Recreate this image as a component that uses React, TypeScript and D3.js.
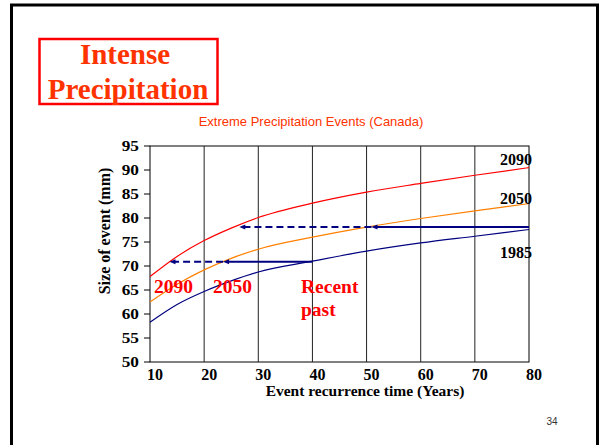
import React from "react";
import * as d3 from "d3";

// recurrence time (years) at which curves were read
const years = [10, 15, 20, 25, 30, 40, 50, 60, 70, 80];
const curve2090 = [67.8, 72.0, 75.3, 77.9, 80.1, 83.1, 85.4, 87.2, 88.9, 90.5];
const curve2050 = [62.5, 66.2, 69.2, 71.6, 73.5, 76.0, 78.1, 79.9, 81.5, 83.0];
const curve1985 = [58.3, 62.0, 64.7, 66.9, 68.75, 71.0, 73.1, 74.8, 76.2, 77.6];

const xTicks = [10, 20, 30, 40, 50, 60, 70, 80];
const yTicks = [50, 55, 60, 65, 70, 75, 80, 85, 90, 95];

// horizontal arrows: [level, from, to, dashed]
const arrows: [number, number, number, boolean][] = [
  [70.9, 40, 23.5, false],
  [70.9, 23.5, 13.6, true],
  [78.1, 80, 50.9, false],
  [78.1, 50.9, 26.5, true],
];

// series names at the right end, placed at a value on the y scale
const endLabels = [
  {text: "2090", value: 91.0},
  {text: "2050", value: 82.9},
  {text: "1985", value: 71.7},
];

const serif = "'Liberation Serif', 'Times New Roman', serif";
const sans = "'Liberation Sans', Arial, sans-serif";
const navy = "#000080";

export default function App() {
  const x = d3.scaleLinear().domain([10, 80]).range([150, 529]);
  const y = d3.scaleLinear().domain([50, 95]).range([362, 146]);

  const line = d3.line<number>()
    .x((d, i) => x(years[i]))
    .y(d => y(d))
    .curve(d3.curveMonotoneX);

  const series = [
    {vals: curve2090, color: "#ff0000"},
    {vals: curve2050, color: "#ff8000"},
    {vals: curve1985, color: navy},
  ];

  return (
    <svg width={602} height={445} style={{position: "absolute", left: 0, top: 0, background: "#fff"}}>
      {/* slide frame */}
      <rect x={11.5} y={5} width={586} height={460} fill="none" stroke="#000" strokeWidth={3}/>

      {/* title box */}
      <rect x={39.5} y={39} width={178} height={65} fill="none" stroke="#ff0000" strokeWidth={2.5}/>
      <text x={125} y={64} textAnchor="middle" fontFamily={serif} fontWeight="bold" fontSize={29} fill="#ff3300">Intense</text>
      <text x={128} y={99} textAnchor="middle" fontFamily={serif} fontWeight="bold" fontSize={29} fill="#ff3300">Precipitation</text>

      <text x={311} y={126} textAnchor="middle" fontFamily={sans} fontSize={13} fill="#ff3300">
        Extreme Precipitation Events (Canada)
      </text>

      {/* plot frame + grid */}
      <rect x={x(10)} y={y(95)} width={x(80) - x(10)} height={y(50) - y(95)} fill="none" stroke="#000" strokeWidth={1}/>
      {xTicks.slice(1, -1).map(t => (
        <line key={t} x1={x(t)} x2={x(t)} y1={y(95)} y2={y(50)} stroke="#222" strokeWidth={1}/>
      ))}

      {/* y axis */}
      {yTicks.map(t => (
        <g key={t}>
          <line x1={x(10) - 6} x2={x(10)} y1={y(t)} y2={y(t)} stroke="#000"/>
          <text x={139} y={y(t)} dy="0.36em" textAnchor="end" fontFamily={serif} fontWeight="bold" fontSize={15}
                transform={`translate(139,0) scale(1.15,1) translate(-139,0)`}>{t}</text>
        </g>
      ))}
      {xTicks.map(t => (
        <text key={t} x={x(t) + 5} y={380} textAnchor="middle" fontFamily={serif} fontWeight="bold" fontSize={16}>{t}</text>
      ))}

      <text x={365} y={396} textAnchor="middle" fontFamily={serif} fontWeight="bold" fontSize={15.5}>
        Event recurrence time (Years)
      </text>
      <text transform="translate(110,231) rotate(-90)" textAnchor="middle" fontFamily={serif} fontWeight="bold" fontSize={16}>
        Size of event (mm)
      </text>

      {/* curves */}
      {series.map((s, i) => (
        <path key={i} d={line(s.vals) || ""} fill="none" stroke={s.color} strokeWidth={1.2}/>
      ))}

      {/* arrows */}
      {arrows.map(([lv, a, b, dashed], i) => (
        <g key={i}>
          <line x1={x(a)} x2={x(b) + 4} y1={y(lv)} y2={y(lv)} stroke={navy} strokeWidth={2}
                strokeDasharray={dashed ? "7,4" : undefined}/>
          <path d={`M${x(b)},${y(lv)} l6,-2.5 l0,5 z`} fill={navy}/>
        </g>
      ))}

      {/* curve labels */}
      {endLabels.map(l => (
        <text key={l.text} x={516} y={y(l.value)} textAnchor="middle" fontFamily={serif} fontWeight="bold" fontSize={16}>{l.text}</text>
      ))}

      <text x={154} y={293} fontFamily={serif} fontWeight="bold" fontSize={19.5} fill="#ff0000">2090</text>
      <text x={213} y={293} fontFamily={serif} fontWeight="bold" fontSize={19.5} fill="#ff0000">2050</text>
      <text x={301} y={293} fontFamily={serif} fontWeight="bold" fontSize={19.5} fill="#ff0000">Recent</text>
      <text x={301} y={316} fontFamily={serif} fontWeight="bold" fontSize={19.5} fill="#ff0000">past</text>

      <text x={552} y={425} textAnchor="middle" fontFamily={sans} fontSize={10} fill="#333">34</text>
    </svg>
  );
}
